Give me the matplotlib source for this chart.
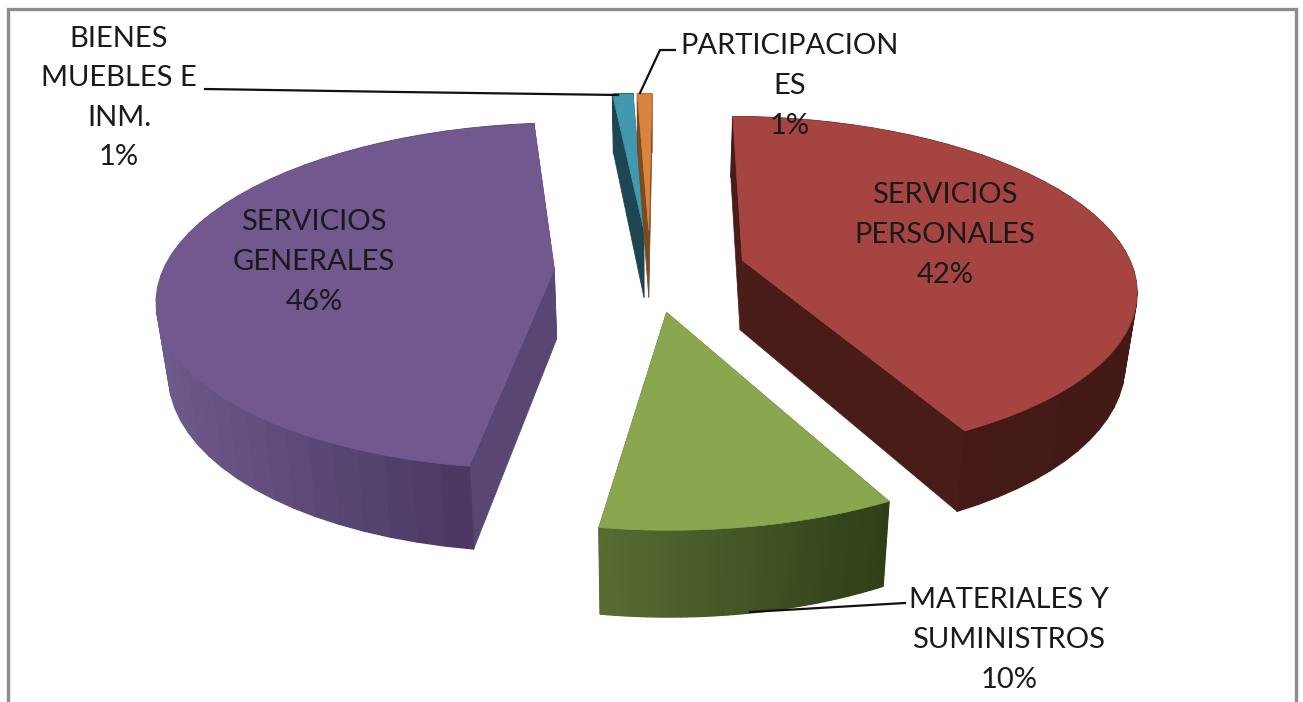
#!/usr/bin/env python3
import numpy as np
import matplotlib
matplotlib.use("Agg")
import matplotlib.pyplot as plt
from matplotlib.collections import PolyCollection
from matplotlib.colors import to_rgb

plt.rcParams["font.family"] = ["Lato", "DejaVu Sans"]

# data, clockwise from 12 o'clock
categories = ["SERVICIOS\nPERSONALES", "MATERIALES Y\nSUMINISTROS", "SERVICIOS\nGENERALES",
              "BIENES\nMUEBLES E\nINM.", "PARTICIPACION\nES"]
shares = [42.2, 10.0, 46.1, 1.0, 0.7]
tops = ["#A64441", "#8AA64E", "#71588F", "#4298AF", "#DB843D"]
cuts = ["#4A1C18", "#4A5A2A", "#5A4673", "#1D4552", "#7A4A20"]
rim_left = ["#4A1C18", "#586B33", "#6E5A8C", "#1D4552", "#7A4A20"]
rim_right = ["#421915", "#2F3F17", "#46345E", "#1D4552", "#7A4A20"]
label_xy = [(945, 235), (1009, 640), (314, 262), (119, 98), (790, 86)]

# fake 3D projection of the pie, fitted by eye
CX, CY = 650, 270
A, B, K = 391, 169, 0.156
EXPLODE = 0.245
DEPTH = 70
SHRINK = 0.975
START = 0.5


def top_pt(x, y):
    s = 1 / (1 + K * y)
    return np.column_stack([CX + A * x * s, CY - B * y * s])


def low_pt(x, y):
    s = 1 / (1 + K * y)
    return np.column_stack([CX + A * x * s * SHRINK, CY - B * y * s + DEPTH * s])


fig = plt.figure(figsize=(13.03, 7.02), dpi=100)
ax = fig.add_axes([0, 0, 1, 1])
ax.set_xlim(0, 1303)
ax.set_ylim(702, 0)
ax.axis("off")

# chart frame, runs off the bottom of the picture
ax.plot([8, 8, 1296, 1296], [702, 9, 9, 702], color="#8C8C8C", lw=2.4, solid_joinstyle="miter")

bounds = START + np.cumsum([0] + shares) * 3.6
for i in [3, 4, 2, 0, 1]:
    t0, t1 = np.radians(bounds[i]), np.radians(bounds[i + 1])
    mid = (t0 + t1) / 2
    ox, oy = EXPLODE * np.sin(mid), EXPLODE * np.cos(mid)
    th = np.linspace(t0, t1, 45)
    x = ox + np.sin(th)
    y = oy + np.cos(th)

    # the two cut faces
    for t in (t0, t1):
        ex, ey = np.array([ox, ox + np.sin(t)]), np.array([oy, oy + np.cos(t)])
        a, b = top_pt(ex, ey), low_pt(ex, ey)
        ax.fill(*np.vstack([a, b[::-1]]).T, color=cuts[i], lw=0.5, zorder=i)

    # outer rim, shaded in strips
    a, b = top_pt(x, y), low_pt(x, y)
    quads = [[a[j], a[j + 1], b[j + 1], b[j]] for j in range(len(th) - 1)]
    c0, c1 = np.array(to_rgb(rim_left[i])), np.array(to_rgb(rim_right[i]))
    xs = a[:-1, 0]
    f = (xs - xs.min()) / max(xs.max() - xs.min(), 1)
    cols = [tuple(c0 + (c1 - c0) * v) for v in f]
    ax.add_collection(PolyCollection(quads, facecolors=cols, edgecolors=cols, linewidths=1.0, zorder=i))

    # top face
    poly = np.vstack([top_pt(np.array([ox]), np.array([oy])), a])
    ax.fill(*poly.T, color=tops[i], lw=0.5, zorder=i + 0.5)

# leader lines
ax.plot([205, 400, 618], [89, 92, 95], color="#111111", lw=1.6, zorder=10)
ax.plot([640, 660, 675], [93, 50, 50], color="#111111", lw=1.6, zorder=10)
ax.plot([750, 905], [612, 603], color="#111111", lw=1.6, zorder=10)

for name, pct, (lx, ly) in zip(categories, shares, label_xy):
    ax.text(lx, ly, f"{name}\n{pct:.0f}%", ha="center", va="center", ma="center",
            fontsize=21, linespacing=1.65, color="#1A1A1A", zorder=11)

fig.savefig("out.png", dpi=100)
